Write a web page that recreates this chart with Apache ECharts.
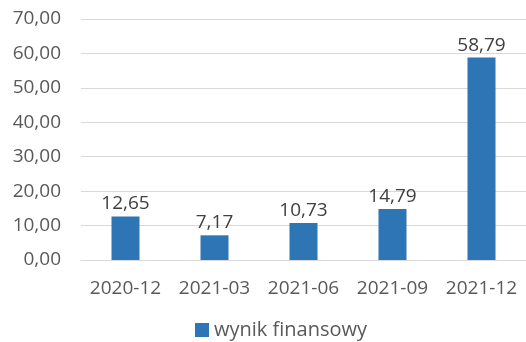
<!DOCTYPE html>
<html>
<head>
<meta charset="utf-8">
<script src="https://cdn.jsdelivr.net/npm/echarts@6/dist/echarts.min.js"></script>
<style>
html,body{margin:0;padding:0;background:#fff;}
#chart{width:526px;height:342px;}
</style>
</head>
<body>
<div id="chart"></div>
<script>
// Quarterly financial result
const categories = ['2020-12', '2021-03', '2021-06', '2021-09', '2021-12'];
const values = [12.65, 7.17, 10.73, 14.79, 58.79];
const seriesName = 'wynik finansowy';
const yTicks = { min: 0, max: 70, interval: 10 };

const fmt = v => v.toFixed(2).replace('.', ',');
const FONT = '"Open Sans", sans-serif';

const chart = echarts.init(document.getElementById('chart'));
chart.setOption({
  animation: false,
  textStyle: { fontFamily: FONT },
  grid: { left: 81, top: 19, width: 450, bottom: 82, containLabel: false },
  legend: {
    data: [seriesName],
    left: 190,
    top: 315,
    itemWidth: 14,
    itemHeight: 14,
    itemGap: 6,
    icon: 'rect',
    textStyle: { fontFamily: FONT, fontSize: 20, color: '#595959' }
  },
  xAxis: {
    type: 'category',
    data: categories,
    axisLine: { show: true, lineStyle: { color: '#D9D9D9', width: 1 } },
    axisTick: { show: false },
    axisLabel: { color: '#595959', fontSize: 19, fontFamily: FONT, margin: 19, interval: 0, hideOverlap: false }
  },
  yAxis: {
    type: 'value',
    min: yTicks.min,
    max: yTicks.max,
    interval: yTicks.interval,
    axisLine: { show: false },
    axisTick: { show: false },
    splitLine: { lineStyle: { color: '#D9D9D9', width: 1 } },
    axisLabel: { color: '#595959', fontSize: 19, fontFamily: FONT, margin: 20, formatter: fmt }
  },
  series: [{
    name: seriesName,
    type: 'bar',
    data: values,
    barWidth: 28,
    itemStyle: { color: '#2E75B6' },
    label: {
      show: true,
      position: 'top',
      distance: 3,
      color: '#404040',
      fontSize: 19,
      fontFamily: FONT,
      formatter: p => fmt(p.value)
    }
  }]
});
</script>
</body>
</html>
